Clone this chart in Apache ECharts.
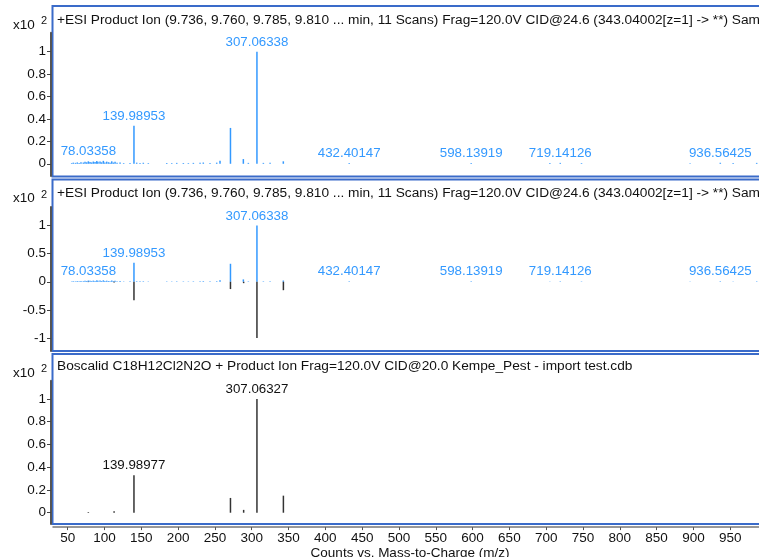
<!DOCTYPE html>
<html>
<head>
<meta charset="utf-8">
<title>Boscalid product ion spectrum vs library</title>
<script src="https://cdn.jsdelivr.net/npm/echarts@6/dist/echarts.min.js"></script>
<style>
  html, body { margin: 0; padding: 0; background: #fff; }
  #chart { width: 759px; height: 557px; }
</style>
</head>
<body>
<div id="chart"></div>
<script>
// Acquired product ion spectrum: m/z and intensity (x10^2 counts)
const acquiredMz = [
  55.4, 57.6, 60.5, 63.0, 65.5, 68.0, 71.2, 73.5, 75.8, 78.03358,
  80.3, 82.5, 84.8, 87.1, 89.4, 91.0, 93.9, 96.0, 98.4, 100.5,
  103.0, 105.5, 107.6, 109.8, 112.0, 114.3, 117.0, 121.1, 126.0, 134.6,
  139.98953, 143.7, 148.2, 152.7, 159.5, 184.5, 191.3, 198.1, 207.1, 213.9,
  220.7, 229.8, 234.2, 243.3, 252.4, 256.9, 271.1, 288.6, 295.4, 307.06338,
  315.8, 324.9, 342.9, 432.40147, 598.13919, 705.0, 719.14126, 748.0, 895.5, 936.56425,
  954.0, 986.0
];
const acquiredInt = [
  0.006, 0.010, 0.008, 0.012, 0.007, 0.014, 0.011, 0.018, 0.013, 0.022,
  0.016, 0.012, 0.020, 0.015, 0.024, 0.017, 0.021, 0.013, 0.026, 0.012,
  0.019, 0.014, 0.010, 0.022, 0.011, 0.018, 0.009, 0.012, 0.006, 0.008,
  0.34, 0.010, 0.007, 0.009, 0.006, 0.007, 0.006, 0.008, 0.007, 0.006,
  0.008, 0.009, 0.011, 0.008, 0.010, 0.027, 0.32, 0.042, 0.008, 1.0,
  0.008, 0.010, 0.022, 0.008, 0.008, 0.006, 0.008, 0.006, 0.005, 0.009,
  0.006, 0.008
];
const acquiredLabeled = [78.03358, 139.98953, 307.06338, 432.40147, 598.13919, 719.14126, 936.56425];

// Library reference spectrum
const libraryMz = [78.0, 113.0, 139.98977, 271.1, 289.0, 307.06327, 343.0];
const libraryInt = [0.006, 0.012, 0.33, 0.13, 0.025, 1.0, 0.15];
const libraryLabeled = [139.98977, 307.06327];

// Tick labels
const xTicks = [50, 100, 150, 200, 250, 300, 350, 400, 450, 500, 550, 600, 650, 700, 750, 800, 850, 900, 950];
const yTicksPos = [0, 0.2, 0.4, 0.6, 0.8, 1];
const yTicksMirror = [-1, -0.5, 0, 0.5, 1];

const panelTitles = [
  '+ESI Product Ion (9.736, 9.760, 9.785, 9.810 ... min, 11 Scans) Frag=120.0V CID@24.6 (343.04002[z=1] -> **) Sample',
  '+ESI Product Ion (9.736, 9.760, 9.785, 9.810 ... min, 11 Scans) Frag=120.0V CID@24.6 (343.04002[z=1] -> **) Sample',
  'Boscalid C18H12Cl2N2O + Product Ion Frag=120.0V CID@20.0 Kempe_Pest - import test.cdb'
];

const BLUE = '#3399ff';
const DARK = '#333333';
const FRAME = '#3a6bc9';
const FONT = '"Liberation Sans", Arial, sans-serif';

function buildData(mzs, ints, labeled, sign) {
  return mzs.map((mz, i) => {
    const item = { value: [mz, sign * ints[i]] };
    if (labeled && labeled.indexOf(mz) >= 0) item.label = { show: true };
    return item;
  });
}

const labelStyle = (color) => ({
  show: false,
  position: 'top',
  distance: 3,
  color: color,
  fontSize: 13.3,
  fontFamily: FONT,
  formatter: (p) => p.value[0].toFixed(5)
});

// Plot areas; the spectra run past the right edge of the page
const gridDefs = [
  { left: 53, width: 714, top: 32.7, height: 143.4, outerBoundsMode: 'none', containLabel: false },
  { left: 53, width: 714, top: 207, height: 143.9, outerBoundsMode: 'none', containLabel: false },
  { left: 53, width: 714, top: 380.8, height: 143.3, outerBoundsMode: 'none', containLabel: false }
];

const yRanges = [
  { min: -0.11, max: 1.17, ticks: yTicksPos },
  { min: -1.23, max: 1.33, ticks: yTicksMirror },
  { min: -0.1, max: 1.16, ticks: yTicksPos }
];

const xAxes = gridDefs.map((g, i) => ({
  type: 'value',
  gridIndex: i,
  position: 'bottom',
  min: 30,
  max: 1000,
  show: i === 2,
  offset: 3,
  name: i === 2 ? 'Counts vs. Mass-to-Charge (m/z)' : '',
  nameLocation: 'middle',
  nameGap: 17,
  nameTextStyle: { color: '#111', fontSize: 13.5, fontFamily: FONT },
  axisLine: { show: true, onZero: false, lineStyle: { color: '#777', width: 1.5 } },
  axisTick: { show: true, length: 3, customValues: xTicks, lineStyle: { color: '#555' } },
  axisLabel: { customValues: xTicks, color: '#111', fontSize: 13.5, fontFamily: FONT, margin: 4 },
  splitLine: { show: false }
}));

const yAxes = yRanges.map((r, i) => ({
  type: 'value',
  gridIndex: i,
  min: r.min,
  max: r.max,
  offset: 2,
  axisLine: { show: true, onZero: false, lineStyle: { color: '#555', width: 2 } },
  axisTick: { show: true, length: 4, customValues: r.ticks, lineStyle: { color: '#444' } },
  axisLabel: { customValues: r.ticks, color: '#111', fontSize: 13.5, fontFamily: FONT, margin: 5 },
  splitLine: { show: false }
}));

const frames = [
  { y: 6, h: 170.5 },
  { y: 179.5, h: 171.5 },
  { y: 354, h: 170 }
];
const exponentY = [25, 198.5, 373];
const titleTops = [13, 186.3, 359.7];

const graphics = [];
frames.forEach((f) => {
  graphics.push({
    type: 'rect', silent: true, z: 0,
    shape: { x: 52.5, y: f.y, width: 760, height: f.h },
    style: { fill: 'none', stroke: FRAME, lineWidth: 2 }
  });
});
exponentY.forEach((y) => {
  graphics.push({
    type: 'text', silent: true,
    style: { x: 13, y: y, text: 'x10', fill: '#111', font: '13.5px ' + FONT, textVerticalAlign: 'middle' }
  });
  graphics.push({
    type: 'text', silent: true,
    style: { x: 41, y: y - 4, text: '2', fill: '#111', font: '11px ' + FONT, textVerticalAlign: 'middle' }
  });
});

const option = {
  backgroundColor: '#fff',
  animation: false,
  title: panelTitles.map((t, i) => ({
    text: t,
    left: 57,
    top: titleTops[i],
    padding: 0,
    textStyle: { fontSize: 13.7, fontWeight: 'normal', color: '#111', fontFamily: FONT }
  })),
  grid: gridDefs,
  xAxis: xAxes,
  yAxis: yAxes,
  graphic: graphics,
  series: [
    {
      type: 'bar', xAxisIndex: 0, yAxisIndex: 0, barWidth: 1.5,
      itemStyle: { color: BLUE },
      label: labelStyle(BLUE),
      data: buildData(acquiredMz, acquiredInt, acquiredLabeled, 1)
    },
    {
      type: 'bar', xAxisIndex: 1, yAxisIndex: 1, barWidth: 1.5, barGap: '-100%',
      itemStyle: { color: BLUE },
      label: labelStyle(BLUE),
      data: buildData(acquiredMz, acquiredInt, acquiredLabeled, 1)
    },
    {
      type: 'bar', xAxisIndex: 1, yAxisIndex: 1, barWidth: 1.5, barGap: '-100%',
      itemStyle: { color: DARK },
      data: buildData(libraryMz, libraryInt, null, -1)
    },
    {
      type: 'bar', xAxisIndex: 2, yAxisIndex: 2, barWidth: 1.5,
      itemStyle: { color: DARK },
      label: labelStyle('#111'),
      data: buildData(libraryMz, libraryInt, libraryLabeled, 1)
    }
  ]
};

const chart = echarts.init(document.getElementById('chart'), null, { renderer: 'canvas' });
chart.setOption(option);
</script>
</body>
</html>
